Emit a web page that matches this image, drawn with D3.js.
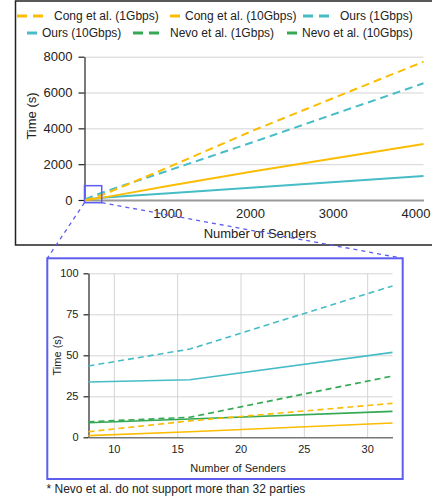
<!DOCTYPE html>
<html>
<head>
<meta charset="utf-8">
<script src="https://cdn.jsdelivr.net/npm/d3@7"></script>
<style>
  body { margin: 0; background: #fff; }
  text { font-family: "Liberation Sans", Arial, sans-serif; fill: #222; }
</style>
</head>
<body>
<div id="chart"></div>
<script>
// data
var senders = [8, 16, 32, 64, 128, 256, 512, 1024, 2048, 4096];
var cong1G  = [3.4, 10, 20.7, 55, 140, 360, 850, 1850, 3900, 7720];
var cong10G = [1, 3.4, 8.7, 25, 65, 160, 370, 790, 1600, 3126];
var ours1G  = [43.5, 53.8, 92.3, 150, 260, 480, 880, 1660, 3250, 6515];
var ours10G = [33.7, 35.1, 51.8, 65, 90, 140, 230, 370, 700, 1340];
var nevoSenders = [8, 16, 32];
var nevo1G  = [9.5, 12.2, 37.4];
var nevo10G = [8.9, 11.2, 15.8];

var bigYTicks = [0, 2000, 4000, 6000, 8000];
var bigXTicks = [1000, 2000, 3000, 4000];
var smallYTicks = [0, 25, 50, 75, 100];
var smallXTicks = [10, 15, 20, 25, 30];

var series = [
    {name: "Cong et al. (1Gbps)",  color: "#FBBC04", dashed: true,  x: senders, y: cong1G},
    {name: "Cong et al. (10Gbps)", color: "#FBBC04", dashed: false, x: senders, y: cong10G},
    {name: "Ours (1Gbps)",         color: "#46BDC6", dashed: true,  x: senders, y: ours1G},
    {name: "Ours (10Gbps)",        color: "#46BDC6", dashed: false, x: senders, y: ours10G},
    {name: "Nevo et al. (1Gbps)",  color: "#34A853", dashed: true,  x: nevoSenders, y: nevo1G},
    {name: "Nevo et al. (10Gbps)", color: "#34A853", dashed: false, x: nevoSenders, y: nevo10G}
];

// zoomed region in data units of the big chart
var zoomBox = {x0: 0, x1: 208, y0: -150, y1: 800};

var width = 432, height = 502;
var fmt = d3.format("d");

var svg = d3.select("#chart").append("svg")
    .attr("width", width)
    .attr("height", height);

//outer frame of top chart
svg.append("rect")
    .attr("x", 15.5).attr("y", 1)
    .attr("width", 440).attr("height", 244)
    .attr("fill", "none")
    .attr("stroke", "#222")
    .attr("stroke-width", 1.5);

//legend
var legendPos = [
    {x: 17, y: 16}, {x: 170, y: 16}, {x: 303, y: 16},
    {x: 27, y: 33}, {x: 133, y: 33}, {x: 287, y: 33}
];
series.forEach(function (s, i) {
    var p = legendPos[i];
    var len = s.dashed ? 30 : 10;
    svg.append("line")
        .attr("x1", p.x).attr("x2", p.x + len)
        .attr("y1", p.y).attr("y2", p.y)
        .attr("stroke", s.color)
        .attr("stroke-width", 3)
        .attr("stroke-dasharray", s.dashed ? "10,6" : null);
    svg.append("text")
        .attr("x", p.x + len + (s.dashed ? 7 : 5))
        .attr("y", p.y + 4.3)
        .attr("font-size", 12)
        .text(s.name);
});

//big chart scales
var bx = d3.scaleLinear().domain([0, 4096]).range([84.5, 423.5]);
var by = d3.scaleLinear().domain([0, 8000]).range([200, 56.7]);

var big = svg.append("g");

// horizontal grid
big.append("g")
    .attr("transform", "translate(" + bx.range()[0] + ",0)")
    .call(d3.axisLeft(by).tickValues(bigYTicks.slice(1)).tickSize(-(bx.range()[1] - bx.range()[0])).tickFormat(""))
    .call(function (g) { g.select(".domain").remove(); })
    .selectAll("line")
    .attr("stroke", "#d4d4d4")
    .attr("stroke-width", 1);

// y axis
var byAxis = big.append("g")
    .attr("transform", "translate(" + bx.range()[0] + ",0)")
    .call(d3.axisLeft(by).tickValues(bigYTicks).tickFormat(fmt).tickSize(6).tickPadding(6).tickSizeOuter(0));
byAxis.select(".domain").attr("stroke", "#222").attr("stroke-width", 1.2);
byAxis.selectAll("line").attr("stroke", "#222").attr("stroke-width", 1.2);
byAxis.selectAll("text").attr("font-size", 13).attr("fill", "#222");

// x axis
var bxAxis = big.append("g")
    .attr("transform", "translate(0," + by(0) + ")")
    .call(d3.axisBottom(bx).tickValues(bigXTicks).tickFormat(fmt).tickSize(0).tickPadding(9).tickSizeOuter(0));
bxAxis.select(".domain").attr("stroke", "#999").attr("stroke-width", 2);
bxAxis.selectAll("text").attr("font-size", 13).attr("fill", "#222");

big.append("text")
    .attr("x", 260).attr("y", 237.5)
    .attr("text-anchor", "middle")
    .attr("font-size", 13)
    .text("Number of Senders");

big.append("text")
    .attr("transform", "translate(36,116) rotate(-90)")
    .attr("text-anchor", "middle")
    .attr("font-size", 13)
    .text("Time (s)");

var bigLine = d3.line()
    .x(function (d) { return bx(d[0]); })
    .y(function (d) { return by(d[1]); });

series.slice().reverse().forEach(function (s) {
    big.append("path")
        .attr("d", bigLine(d3.zip(s.x, s.y)))
        .attr("fill", "none")
        .attr("stroke", s.color)
        .attr("stroke-width", 2)
        .attr("stroke-dasharray", s.dashed ? "8,5" : null);
});

//small chart frame
var frame = {x: 47.3, y: 258.3, w: 355.4, h: 220.7};
var zoomColor = "#5d5def";

// zoom box on big chart
big.append("rect")
    .attr("x", bx(zoomBox.x0)).attr("y", by(zoomBox.y1))
    .attr("width", bx(zoomBox.x1) - bx(zoomBox.x0))
    .attr("height", by(zoomBox.y0) - by(zoomBox.y1))
    .attr("fill", "none")
    .attr("stroke", zoomColor)
    .attr("stroke-width", 1.5);

// connectors
svg.append("line")
    .attr("x1", bx(zoomBox.x0)).attr("y1", by(zoomBox.y0))
    .attr("x2", frame.x).attr("y2", frame.y)
    .attr("stroke", zoomColor).attr("stroke-width", 1.3).attr("stroke-dasharray", "4,4");
svg.append("line")
    .attr("x1", bx(zoomBox.x1)).attr("y1", by(zoomBox.y0))
    .attr("x2", frame.x + frame.w).attr("y2", frame.y)
    .attr("stroke", zoomColor).attr("stroke-width", 1.3).attr("stroke-dasharray", "4,4");

svg.append("rect")
    .attr("x", frame.x).attr("y", frame.y)
    .attr("width", frame.w).attr("height", frame.h)
    .attr("fill", "#fff")
    .attr("stroke", zoomColor)
    .attr("stroke-width", 2);

//small chart scales
var sx = d3.scaleLinear().domain([8, 32]).range([88.5, 392.5]);
var sy = d3.scaleLinear().domain([0, 100]).range([437.3, 273.3]);

var small = svg.append("g");

small.append("g")
    .attr("transform", "translate(" + sx.range()[0] + ",0)")
    .call(d3.axisLeft(sy).tickValues(smallYTicks.slice(1)).tickSize(-(sx.range()[1] - sx.range()[0])).tickFormat(""))
    .call(function (g) { g.select(".domain").remove(); })
    .selectAll("line")
    .attr("stroke", "#d4d4d4");

small.append("g")
    .attr("transform", "translate(0," + sy(0) + ")")
    .call(d3.axisTop(sx).tickValues(smallXTicks).tickSize(sy(0) - sy(100)).tickFormat(""))
    .call(function (g) { g.select(".domain").remove(); })
    .selectAll("line")
    .attr("stroke", "#d4d4d4");

var syAxis = small.append("g")
    .attr("transform", "translate(" + sx.range()[0] + ",0)")
    .call(d3.axisLeft(sy).tickValues(smallYTicks).tickSize(5).tickPadding(5).tickSizeOuter(0));
syAxis.select(".domain").attr("stroke", "#222").attr("stroke-width", 1.2);
syAxis.selectAll("line").attr("stroke", "#222").attr("stroke-width", 1.2);
syAxis.selectAll("text").attr("font-size", 11).attr("fill", "#222");

var sxAxis = small.append("g")
    .attr("transform", "translate(0," + sy(0) + ")")
    .call(d3.axisBottom(sx).tickValues(smallXTicks).tickSize(0).tickPadding(8).tickSizeOuter(0));
sxAxis.select(".domain").attr("stroke", "#777").attr("stroke-width", 1.5);
sxAxis.selectAll("text").attr("font-size", 11).attr("fill", "#222");

small.append("text")
    .attr("x", 238).attr("y", 472)
    .attr("text-anchor", "middle")
    .attr("font-size", 11)
    .text("Number of Senders");

small.append("text")
    .attr("transform", "translate(60.5," + 355.5 + ") rotate(-90)")
    .attr("text-anchor", "middle")
    .attr("font-size", 11)
    .text("Time (s)");

var smallLine = d3.line()
    .x(function (d) { return sx(d[0]); })
    .y(function (d) { return sy(d[1]); });

series.slice().reverse().forEach(function (s) {
    var pts = d3.zip(s.x, s.y).filter(function (d) { return d[0] <= 32; });
    small.append("path")
        .attr("d", smallLine(pts))
        .attr("fill", "none")
        .attr("stroke", s.color)
        .attr("stroke-width", 1.6)
        .attr("stroke-dasharray", s.dashed ? "6,4" : null);
});

//footnote
svg.append("text")
    .attr("x", 46.5).attr("y", 493)
    .attr("font-size", 12)
    .text("* Nevo et al. do not support more than 32 parties");
</script>
</body>
</html>
